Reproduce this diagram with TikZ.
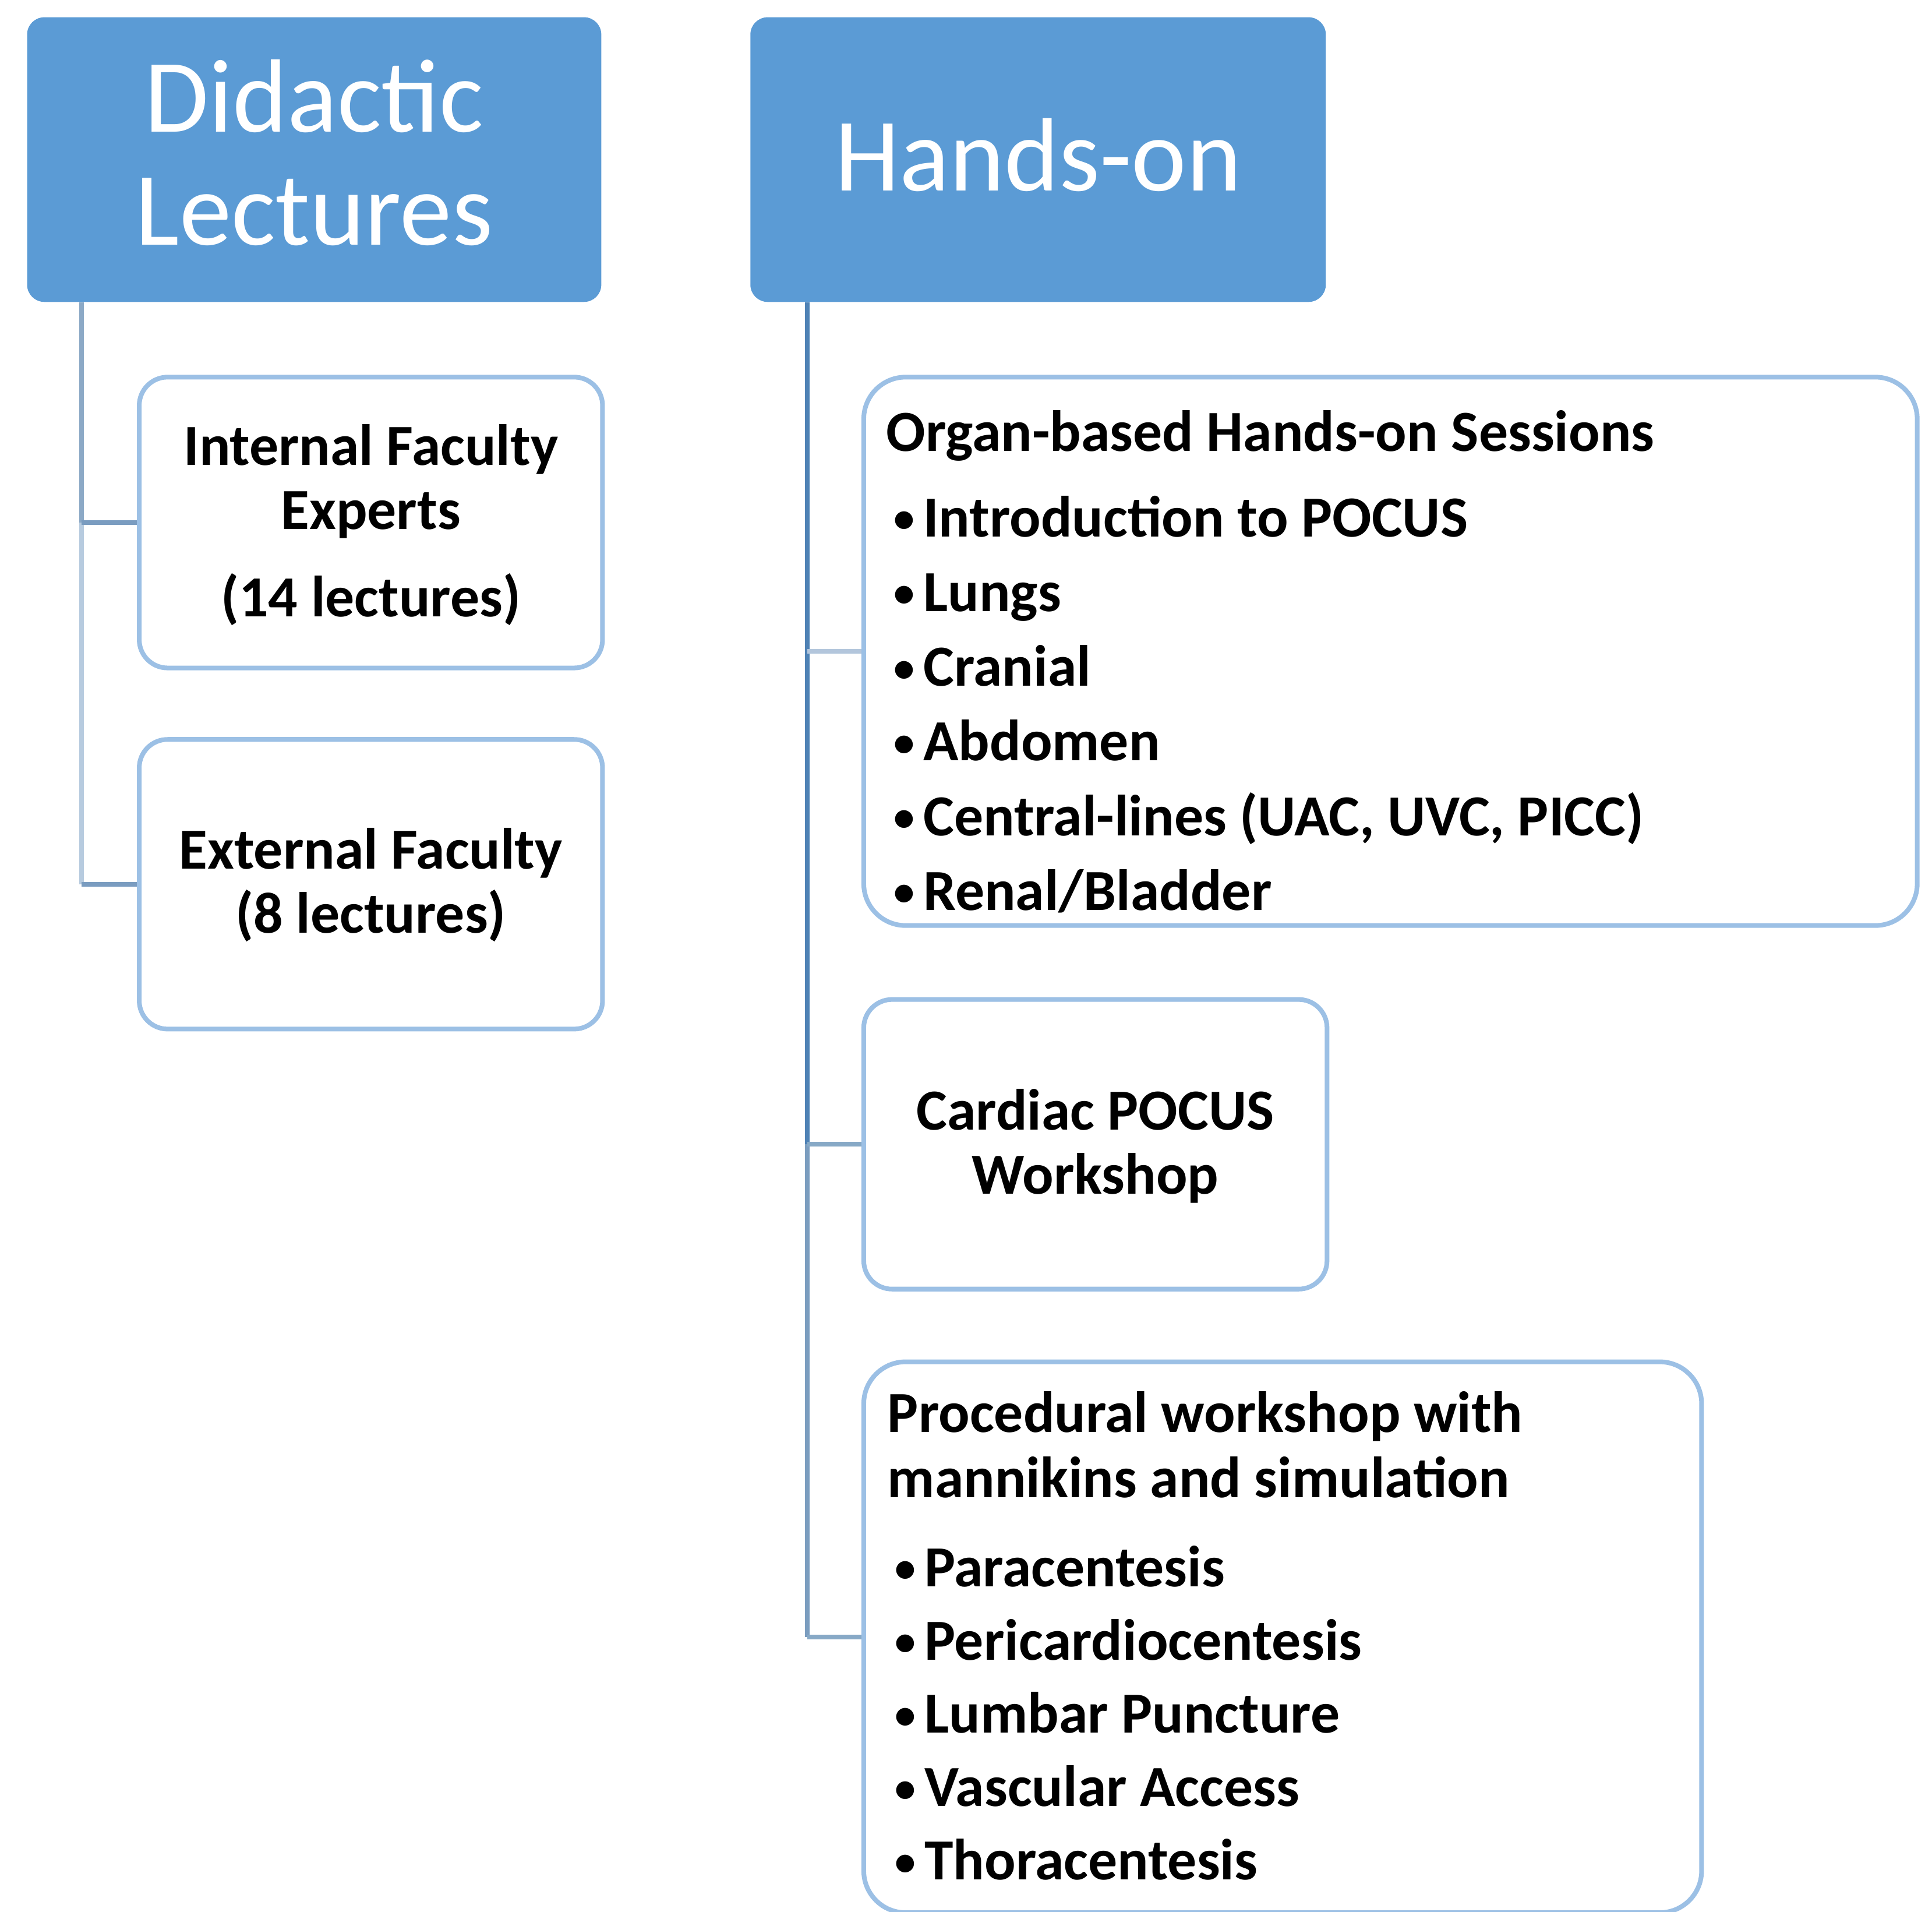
\documentclass[tikz,border=0pt]{standalone}
\usepackage{fontspec}
\setmainfont{Carlito}
\definecolor{hdr}{HTML}{5B9BD5}
\definecolor{bord}{HTML}{9CC0E5}
\definecolor{lnA}{HTML}{8CA9C6}
\definecolor{lnB}{HTML}{B7CBDF}
\definecolor{lnC}{HTML}{7A9CC0}
\definecolor{lnD}{HTML}{4F82B5}
\definecolor{lnE}{HTML}{7B9DBF}
\definecolor{lnF}{HTML}{B3C6DC}
\definecolor{lnG}{HTML}{87A9C6}
\newcommand{\blt}{\makebox[15pt][l]{\hspace{3pt}\raisebox{1.8pt}{\fontsize{17}{17}\selectfont •}}}
\tikzset{
  hdrbox/.style={fill=hdr, draw=none, rounded corners=7pt, inner sep=0pt},
  subbox/.style={draw=bord, line width=1.9pt, fill=white, rounded corners=11.5pt, inner sep=0pt},
  bigbox/.style={subbox, rounded corners=17pt},
  hdrtext/.style={inner sep=0pt, anchor=base, text=white, font=\fontsize{42.3}{46}\selectfont},
  bodytext/.style={inner sep=0pt, text=black, font=\fontsize{23.6}{26}\selectfont\bfseries},
  conn/.style={line width=1.9pt},
}
\begin{document}
\begin{tikzpicture}[x=0.5pt, y=-0.5pt]
\useasboundingbox (0,0) rectangle (1568,1551);
% header boxes
\node[hdrbox, minimum width=233pt, minimum height=115.5pt] (did) at (255,129.5) {};
\node[hdrbox, minimum width=233.5pt, minimum height=115.5pt] (hand) at (842.5,129.5) {};
% left column boxes
\node[subbox, minimum width=188pt, minimum height=118pt] (int) at (301,424) {};
\node[subbox, minimum width=188pt, minimum height=117.5pt] (ext) at (301,717.5) {};
% right column boxes
\node[bigbox, minimum width=427.5pt, minimum height=222.5pt] (org) at (1128.5,528.5) {};
\node[subbox, minimum width=188pt, minimum height=117.5pt] (card) at (889,928.5) {};
\node[bigbox, minimum width=340pt, minimum height=223.5pt] (proc) at (1041,1328.5) {};
% connector anchors
\coordinate (lv) at (66,245);
\coordinate (rv) at (655,245);
% left connectors
\draw[conn, lnA] (did.south -| lv) -- (int.west -| lv);
\draw[conn, lnB] (int.west -| lv) -- (ext.west -| lv);
\draw[conn, lnC] (int.west -| lv) -- (int.west);
\draw[conn, lnC] (ext.west -| lv) -- (ext.west);
% right connectors
\draw[conn, lnD] (hand.south -| rv) -- (card.west -| rv);
\draw[conn, lnE] (card.west -| rv) -- (proc.west -| rv);
\draw[conn, lnF] (org.west -| rv) -- (org.west);
\draw[conn, lnG] (card.west -| rv) -- (card.west);
\draw[conn, lnG] (proc.west -| rv) -- (proc.west);
% header texts
\node[hdrtext] (didt) at (255,107) {\begin{tabular}[t]{@{}c@{}}Didactic\\Lectures\end{tabular}};
\node[hdrtext] (handt) at (842.5,155) {Hands-on};
% left texts
\node[bodytext, anchor=base] (intt) at (301,377.5) {\begin{tabular}[t]{@{}c@{}}Internal Faculty\\Experts\\[9.5pt](14 lectures)\end{tabular}};
\node[bodytext, anchor=base] (extt) at (301,705) {\begin{tabular}[t]{@{}c@{}}External Faculty\\(8 lectures)\end{tabular}};
% right texts
\node[bodytext, anchor=base west] (orgt) at (719,366) {\begin{tabular}[t]{@{}l@{}}Organ-based Hands-on Sessions\\[8.75pt]
\blt Introduction to POCUS\\[4.3pt]
\blt Lungs\\[4.3pt]
\blt Cranial\\[4.3pt]
\blt Abdomen\\[4.3pt]
\blt Central-lines (UAC, UVC, PICC)\\[4.3pt]
\blt Renal/Bladder\end{tabular}};
\node[bodytext, anchor=base] (cardt) at (889,917) {\begin{tabular}[t]{@{}c@{}}Cardiac POCUS\\Workshop\end{tabular}};
\node[bodytext, anchor=base west] (proct) at (720,1162) {\begin{tabular}[t]{@{}l@{}}Procedural workshop with\\[0.5pt]
mannikins and simulation\\[10.15pt]
\blt Paracentesis\\[3.75pt]
\blt Pericardiocentesis\\[3.75pt]
\blt Lumbar Puncture\\[3.75pt]
\blt Vascular Access\\[3.75pt]
\blt Thoracentesis\end{tabular}};
\end{tikzpicture}
\end{document}
